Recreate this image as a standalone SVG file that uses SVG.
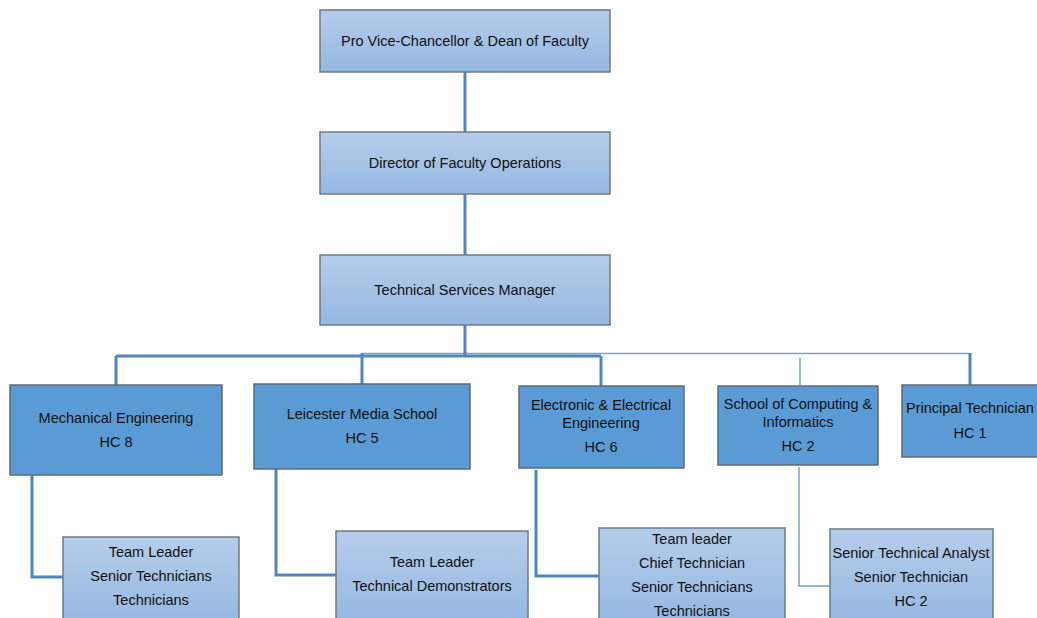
<svg xmlns="http://www.w3.org/2000/svg" width="1037" height="618" viewBox="0 0 1037 618">
<defs>
<linearGradient id="lg" x1="0" y1="0" x2="0" y2="1">
<stop offset="0" stop-color="#b5cdea"/>
<stop offset="1" stop-color="#95b8e1"/>
</linearGradient>
<style>
.lt{fill:url(#lg);stroke:#6f7a86;stroke-width:1.5}
.dk{fill:#5b9bd5;stroke:#5f6b78;stroke-width:1.5}
text{font-family:"Liberation Sans",Arial,sans-serif;font-size:14.5px;fill:#111;text-anchor:middle}
.c{fill:none;stroke:#4f86bf;stroke-width:3}
.t{fill:none;stroke:#6fa3d6;stroke-width:1.5}
</style>
</defs>
<rect width="1037" height="618" fill="#fff"/>
<g id="connectors">
<path class="c" d="M465 72V132M465 194V255"/>
<path class="t" d="M362 353.5H970"/>
<path class="c" d="M465 325V356M116 356H601M116 356V385M362 353V384M601 356V386M970 353V385"/>
<path class="t" d="M800 358V385"/>
<path class="c" d="M32 475V577H63M276 469V575H336M536 470V576H599"/>
<path class="t" d="M799 467V586H838"/>
</g>
<g id="n1"><rect class="lt" x="320" y="10" width="290" height="62"/><text x="465" y="46">Pro Vice-Chancellor &amp; Dean of Faculty</text></g>
<g id="n2"><rect class="lt" x="320" y="132" width="290" height="62"/><text x="465" y="168">Director of Faculty Operations</text></g>
<g id="n3"><rect class="lt" x="320" y="255" width="290" height="70"/><text x="465" y="295">Technical Services Manager</text></g>
<g id="mech"><rect class="dk" x="10" y="385" width="212" height="90"/><text x="116" y="423">Mechanical Engineering</text><text x="116" y="447">HC 8</text></g>
<g id="lms"><rect class="dk" x="254" y="384" width="216" height="85"/><text x="362" y="419">Leicester Media School</text><text x="362" y="443">HC 5</text></g>
<g id="eee"><rect class="dk" x="519" y="386" width="165" height="82"/><text x="601" y="410">Electronic &amp; Electrical</text><text x="601" y="428">Engineering</text><text x="601" y="452">HC 6</text></g>
<g id="sci"><rect class="dk" x="718" y="386" width="160" height="79"/><text x="798" y="409">School of Computing &amp;</text><text x="798" y="427">Informatics</text><text x="798" y="451">HC 2</text></g>
<g id="pt"><rect class="dk" x="902" y="385" width="140" height="72"/><text x="970" y="413">Principal Technician</text><text x="970" y="438">HC 1</text></g>
<g id="mechc"><rect class="lt" x="63" y="537" width="176" height="85"/><text x="151" y="557">Team Leader</text><text x="151" y="581">Senior Technicians</text><text x="151" y="605">Technicians</text></g>
<g id="lmsc"><rect class="lt" x="336" y="531" width="192" height="91"/><text x="432" y="567">Team Leader</text><text x="432" y="591">Technical Demonstrators</text></g>
<g id="eeec"><rect class="lt" x="599" y="528" width="186" height="94"/><text x="692" y="544">Team leader</text><text x="692" y="568">Chief Technician</text><text x="692" y="592">Senior Technicians</text><text x="692" y="616">Technicians</text></g>
<g id="scic"><rect class="lt" x="830" y="529" width="163" height="93"/><text x="911" y="558">Senior Technical Analyst</text><text x="911" y="582">Senior Technician</text><text x="911" y="606">HC 2</text></g>
</svg>
